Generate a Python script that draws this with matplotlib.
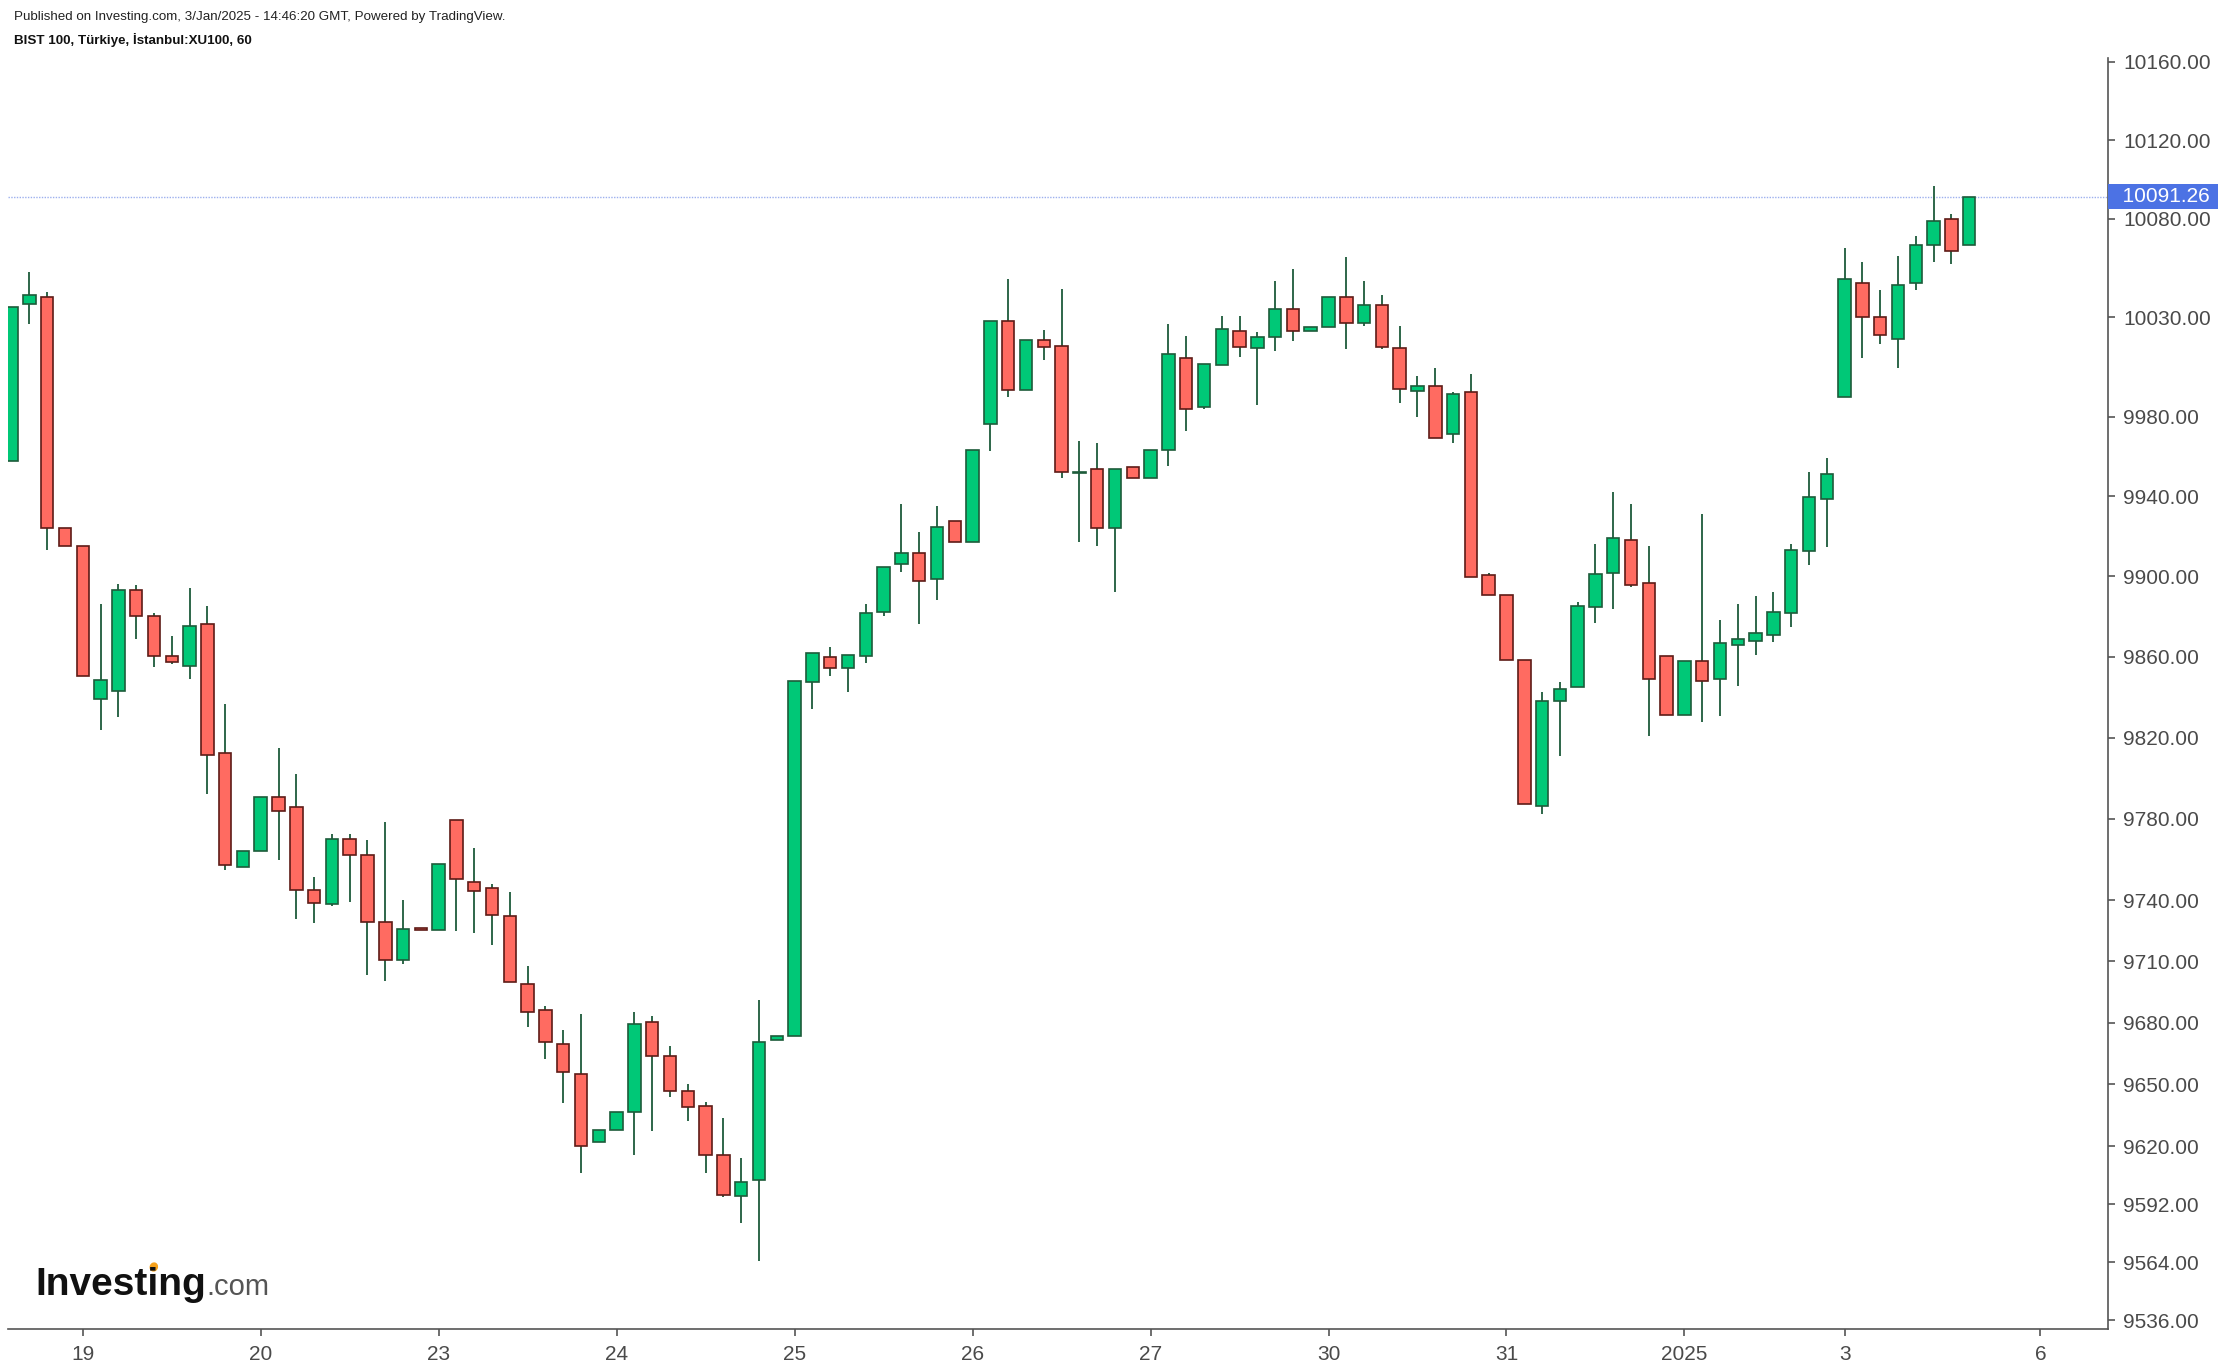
import matplotlib
matplotlib.use("Agg")
import matplotlib.pyplot as plt
import matplotlib.transforms as mtransforms
from matplotlib.patches import Ellipse
from matplotlib.ticker import FixedLocator, FixedFormatter, NullLocator
import numpy as np

plt.rcParams["font.family"] = ["Liberation Sans", "DejaVu Sans"]

# Hourly OHLC, BIST 100 (XU100), 18 Dec 2024 afternoon -> 3 Jan 2025 17:00
opens = [
    9957.6, 10036.8, 10040.5, 9924.3, 9915.2, 9839.3, 9843.1, 9893.1, 9880.1, 9860.5,
    9855.3, 9876.1, 9812.3, 9756.0, 9764.0, 9790.6, 9785.6, 9745.0, 9738.1, 9770.2,
    9762.3, 9729.4, 9710.5, 9726.3, 9725.2, 9779.3, 9748.7, 9745.7, 9732.0, 9698.8,
    9686.2, 9669.6, 9655.0, 9621.8, 9627.8, 9636.5, 9680.3, 9663.6, 9647.0, 9639.4,
    9615.9, 9595.8, 9603.4, 9671.4, 9673.3, 9847.6, 9859.9, 9854.6, 9860.6, 9882.5,
    9906.4, 9911.7, 9898.6, 9927.7, 9917.4, 9976.2, 10028.3, 9993.3, 10018.4, 10015.4,
    9951.8, 9953.6, 9924.3, 9954.6, 9949.4, 9963.5, 10009.4, 9985.1, 10006.1, 10023.3,
    10014.4, 10020.0, 10034.3, 10023.3, 10025.2, 10040.3, 10027.0, 10036.3, 10014.4, 9993.1,
    9995.4, 9971.4, 9992.5, 9900.8, 9890.8, 9858.5, 9786.3, 9838.2, 9845.1, 9884.9,
    9901.9, 9918.0, 9897.0, 9860.2, 9831.1, 9858.2, 9849.0, 9866.1, 9868.0, 9871.0,
    9881.8, 9912.8, 9938.8, 9989.8, 10047.6, 10030.3, 10019.0, 10047.3, 10066.6, 10080.0,
    10066.6,
]
highs = [
    10035.5, 10053.0, 10043.0, 9924.3, 9915.2, 9886.3, 9896.3, 9895.6, 9881.6, 9870.6,
    9894.2, 9885.3, 9836.4, 9764.0, 9790.6, 9814.8, 9802.0, 9751.2, 9772.2, 9772.2,
    9769.3, 9778.4, 9740.0, 9726.3, 9757.7, 9779.3, 9765.6, 9747.9, 9743.9, 9707.8,
    9688.2, 9676.7, 9684.4, 9627.8, 9636.5, 9685.3, 9683.4, 9668.9, 9650.4, 9641.6,
    9633.7, 9614.4, 9691.3, 9673.5, 9847.9, 9861.7, 9865.0, 9860.9, 9886.1, 9904.7,
    9936.0, 9922.0, 9935.0, 9927.7, 9963.5, 10028.3, 10049.4, 10018.4, 10023.7, 10044.4,
    9967.9, 9966.7, 9953.6, 9954.6, 9963.5, 10026.5, 10020.5, 10006.4, 10030.5, 10030.5,
    10022.5, 10048.4, 10054.4, 10025.3, 10040.3, 10060.4, 10048.4, 10041.4, 10025.5, 10000.6,
    10004.6, 9992.5, 10001.6, 9901.8, 9890.8, 9858.5, 9842.6, 9847.5, 9887.2, 9916.1,
    9942.1, 9936.2, 9915.1, 9860.2, 9858.2, 9931.3, 9878.3, 9886.2, 9890.2, 9892.2,
    9916.1, 9952.1, 9959.2, 10065.0, 10057.9, 10043.7, 10060.9, 10071.1, 10096.7, 10082.2,
    10091.26,
]
lows = [
    9957.6, 10026.5, 9913.0, 9915.2, 9850.5, 9824.0, 9830.0, 9868.7, 9855.0, 9856.3,
    9849.0, 9792.2, 9754.9, 9756.0, 9764.0, 9759.8, 9730.9, 9728.9, 9736.9, 9738.8,
    9703.2, 9700.5, 9708.5, 9725.5, 9725.2, 9725.0, 9723.8, 9717.8, 9699.8, 9677.8,
    9662.3, 9641.1, 9606.9, 9621.8, 9627.8, 9615.6, 9627.2, 9643.8, 9632.1, 9606.9,
    9595.3, 9582.7, 9564.5, 9671.4, 9673.3, 9834.3, 9850.4, 9842.6, 9857.2, 9880.3,
    9902.4, 9876.3, 9888.3, 9917.4, 9917.4, 9963.0, 9990.0, 9993.3, 10008.7, 9949.1,
    9917.2, 9915.2, 9892.3, 9949.4, 9949.4, 9955.1, 9973.0, 9984.1, 10006.1, 10009.9,
    9986.0, 10012.9, 10017.9, 10023.3, 10025.2, 10013.9, 10025.8, 10013.9, 9987.0, 9980.0,
    9969.4, 9967.0, 9899.6, 9890.6, 9858.3, 9787.4, 9782.1, 9810.8, 9845.1, 9876.6,
    9883.6, 9894.7, 9820.8, 9831.1, 9831.1, 9827.8, 9830.8, 9845.7, 9860.7, 9867.6,
    9874.6, 9905.5, 9914.5, 9989.8, 10009.7, 10016.8, 10004.7, 10044.0, 10057.8, 10056.8,
    10066.6,
]
closes = [
    10035.5, 10041.5, 9924.3, 9915.2, 9850.5, 9848.3, 9893.1, 9880.1, 9860.5, 9857.5,
    9875.1, 9811.6, 9757.2, 9764.0, 9790.6, 9783.9, 9745.0, 9738.4, 9770.2, 9762.1,
    9729.4, 9710.6, 9726.0, 9725.5, 9757.7, 9750.5, 9744.6, 9732.9, 9699.8, 9685.0,
    9670.4, 9655.8, 9619.9, 9627.8, 9636.5, 9679.3, 9663.6, 9647.0, 9639.2, 9615.7,
    9596.5, 9602.6, 9670.4, 9673.5, 9847.9, 9861.7, 9854.6, 9860.9, 9881.8, 9904.7,
    9911.7, 9897.8, 9924.7, 9917.4, 9963.5, 10028.3, 9993.3, 10018.4, 10015.2, 9952.2,
    9952.2, 9924.3, 9953.6, 9949.4, 9963.5, 10011.4, 9984.1, 10006.4, 10024.3, 10015.0,
    10020.3, 10034.3, 10023.3, 10025.3, 10040.3, 10027.0, 10036.3, 10015.0, 9994.1, 9995.4,
    9969.4, 9991.5, 9899.6, 9890.6, 9858.3, 9787.4, 9838.2, 9844.2, 9885.1, 9901.0,
    9919.0, 9895.9, 9849.0, 9831.1, 9858.2, 9848.0, 9867.1, 9869.1, 9872.1, 9882.1,
    9913.0, 9939.9, 9951.1, 10049.6, 10030.1, 10021.2, 10046.6, 10066.8, 10079.0, 10063.6,
    10091.26,
]

# first hourly bar of each session (bar index) and its label
day_labels = ["19", "20", "23", "24", "25", "26", "27", "30", "31", "2025", "3", "6"]
day_bar_index = [4, 14, 24, 34, 44, 54, 64, 74, 84, 94, 103, 114]

price_ticks = [9536, 9564, 9592, 9620, 9650, 9680, 9710, 9740, 9780, 9820,
               9860, 9900, 9940, 9980, 10030, 10080, 10120, 10160]

GREEN = "#00c877"
GREEN_EDGE = "#1d5b3a"
RED = "#ff6b61"
RED_EDGE = "#5e1b17"
WICK = "#1d5b3a"
AXIS = "#555555"
TEXT = "#4a4a4a"

W, H = 2230, 1372
fig = plt.figure(figsize=(W / 100, H / 100), dpi=100, facecolor="white")
ax = fig.add_axes([8 / W, 42.7 / H, 2100 / W, 1271.3 / H])

o = np.array(opens)
h = np.array(highs)
l = np.array(lows)
c = np.array(closes)
x = np.arange(len(o))
up = c >= o

# wicks
ax.vlines(x, l, h, color=WICK, linewidth=1.3, zorder=2)

# bodies
body_bottom = np.minimum(o, c)
body_height = np.maximum(np.abs(c - o), 0.5)
ax.bar(x[up], body_height[up], bottom=body_bottom[up], width=0.7,
       color=GREEN, edgecolor=GREEN_EDGE, linewidth=1.2, zorder=3)
ax.bar(x[~up], body_height[~up], bottom=body_bottom[~up], width=0.7,
       color=RED, edgecolor=RED_EDGE, linewidth=1.2, zorder=3)

# last price line + label
last_price = closes[-1]
ax.axhline(last_price, color="#9db0ee", linewidth=1.0, linestyle=(0, (1, 1)), zorder=1)
trans = mtransforms.blended_transform_factory(ax.transAxes, ax.transData)
ax.annotate(f"  {last_price:.2f} ", xy=(1.0, last_price), xycoords=trans,
            xytext=(2, 0), textcoords="offset points",
            ha="left", va="center", fontsize=15, color="white",
            bbox=dict(boxstyle="square,pad=0.15", fc="#4c72e4", ec="none"),
            annotation_clip=False, zorder=6)

# axes
ax.set_yscale("log")
ax.set_ylim(9531.7, 10161.9)
ax.set_xlim(-0.2, 117.8)
ax.yaxis.set_major_locator(FixedLocator(price_ticks))
ax.yaxis.set_major_formatter(FixedFormatter([f"{v:.2f}" for v in price_ticks]))
ax.yaxis.set_minor_locator(NullLocator())
ax.yaxis.tick_right()
ax.set_xticks(day_bar_index)
ax.set_xticklabels(day_labels)

ax.tick_params(axis="both", which="major", direction="out", length=5, width=1.2,
               color=AXIS, labelsize=15, labelcolor=TEXT)
ax.tick_params(axis="y", pad=6)
ax.tick_params(axis="x", pad=6)

for side in ["left", "top"]:
    ax.spines[side].set_visible(False)
for side in ["bottom", "right"]:
    ax.spines[side].set_color(AXIS)
    ax.spines[side].set_linewidth(1.2)

# header
fig.text(14 / W, 1 - 17 / H, "Published on Investing.com, 3/Jan/2025 - 14:46:20 GMT, Powered by TradingView.",
         fontsize=9.6, color="#222222", va="center", ha="left")
fig.text(14 / W, 1 - 40 / H, "BIST 100, Türkiye, İstanbul:XU100, 60",
         fontsize=9.6, fontweight="bold", color="#111111", va="center", ha="left")

# watermark logo
logo = fig.text(35 / W, 77 / H, "Investing", fontsize=28, fontweight="bold",
                color="#111111", va="baseline", ha="left")
fig.canvas.draw()
renderer = fig.canvas.get_renderer()
ext = logo.get_window_extent(renderer)
fig.text(ext.x1 / W + 1 / W, 77 / H, ".com", fontsize=21, color="#555555",
         va="baseline", ha="left")
part = fig.text(35 / W, 77 / H, "Invest", fontsize=28, fontweight="bold",
                alpha=0, va="baseline", ha="left")
part2 = fig.text(35 / W, 77 / H, "Investi", fontsize=28, fontweight="bold",
                 alpha=0, va="baseline", ha="left")
fig.canvas.draw()
x_a = part.get_window_extent(renderer).x1
x_b = part2.get_window_extent(renderer).x1
dot = Ellipse(((x_a + x_b) / 2 + 1, 77 + 28 * 100 / 72 * 0.72), 7, 8, angle=-20,
              color="#f7a21b", transform=mtransforms.IdentityTransform())
fig.add_artist(dot)

fig.savefig("out.png", dpi=100, facecolor="white")
